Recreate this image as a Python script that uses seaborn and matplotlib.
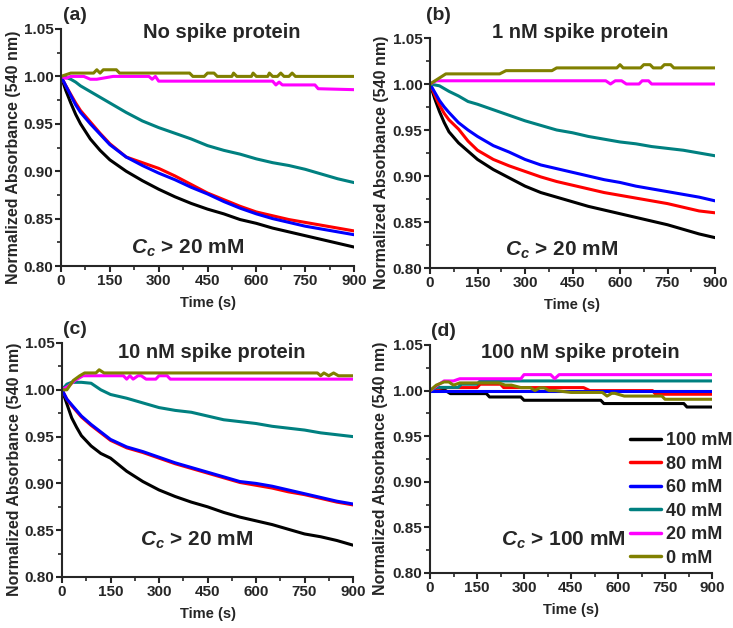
import pandas as pd
import matplotlib.pyplot as plt
import seaborn as sns
from matplotlib.ticker import MultipleLocator, FormatStrFormatter

# common time grid (s) for the decaying curves
t_grid = [0, 15, 30, 45, 60, 90, 120, 150, 200, 250, 300, 350, 400, 450,
          500, 550, 600, 650, 700, 750, 800, 850, 900]

# (a) no spike protein
a_100 = [1.000, 0.985, 0.972, 0.960, 0.950, 0.934, 0.922, 0.912, 0.900, 0.890, 0.881, 0.873,
         0.866, 0.860, 0.855, 0.849, 0.845, 0.840, 0.836, 0.832, 0.828, 0.824, 0.820]
a_80 = [1.000, 0.990, 0.981, 0.972, 0.964, 0.952, 0.940, 0.929, 0.915, 0.909, 0.903, 0.895,
        0.886, 0.877, 0.870, 0.863, 0.857, 0.853, 0.849, 0.846, 0.843, 0.840, 0.837]
a_60 = [1.000, 0.990, 0.980, 0.970, 0.962, 0.950, 0.939, 0.928, 0.915, 0.906, 0.898, 0.891,
        0.883, 0.876, 0.868, 0.861, 0.855, 0.850, 0.846, 0.842, 0.839, 0.836, 0.833]
a_40 = [1.000, 0.999, 0.997, 0.994, 0.990, 0.984, 0.978, 0.972, 0.962, 0.953, 0.946, 0.940,
        0.934, 0.927, 0.922, 0.918, 0.913, 0.909, 0.906, 0.902, 0.897, 0.892, 0.888]
t_a_20 = [0, 15, 30, 70, 90, 110, 160, 270, 280, 290, 300, 650, 660, 670, 680, 780, 790, 900]
a_20 = [1.0, 0.998, 1.0, 1.0, 0.997, 0.997, 1.0, 1.0, 0.997, 1.0, 0.995, 0.995, 0.991,
        0.994, 0.991, 0.991, 0.987, 0.986]
t_a_0 = [0, 30, 100, 110, 120, 130, 170, 180, 395, 405, 440, 450, 470, 480, 525, 530, 540,
         585, 590, 600, 635, 640, 650, 665, 675, 685, 700, 710, 720, 900]
a_0 = [1.0, 1.0035, 1.0035, 1.007, 1.0035, 1.007, 1.007, 1.0035, 1.0035, 1.0, 1.0, 1.0035,
       1.0035, 1.0, 1.0, 1.0035, 1.0, 1.0, 1.0035, 1.0, 1.0, 1.0035, 1.0, 1.0, 1.0035, 1.0,
       1.0, 1.0035, 1.0, 1.0]

# (b) 1 nM spike protein
b_100 = [1.000, 0.984, 0.970, 0.958, 0.948, 0.936, 0.927, 0.918, 0.907, 0.898, 0.889, 0.882,
         0.877, 0.872, 0.867, 0.863, 0.859, 0.855, 0.851, 0.847, 0.842, 0.837, 0.833]
b_80 = [1.000, 0.988, 0.977, 0.968, 0.961, 0.951, 0.938, 0.928, 0.918, 0.911, 0.905, 0.899,
        0.894, 0.890, 0.886, 0.882, 0.879, 0.876, 0.873, 0.870, 0.866, 0.862, 0.860]
b_60 = [1.000, 0.991, 0.982, 0.975, 0.969, 0.958, 0.950, 0.943, 0.933, 0.926, 0.918, 0.912,
        0.908, 0.904, 0.900, 0.896, 0.893, 0.889, 0.886, 0.883, 0.880, 0.877, 0.873]
b_40 = [1.000, 0.999, 0.998, 0.995, 0.992, 0.987, 0.981, 0.978, 0.972, 0.966, 0.960, 0.955,
        0.950, 0.947, 0.943, 0.940, 0.937, 0.935, 0.932, 0.930, 0.928, 0.925, 0.922]
t_b_20 = [0, 20, 555, 570, 585, 605, 620, 660, 670, 690, 700, 900]
b_20 = [1.0, 1.0035, 1.0035, 1.0, 1.0035, 1.0035, 1.0, 1.0, 1.0035, 1.0035, 1.0, 1.0]
t_b_0 = [0, 50, 220, 240, 385, 400, 590, 600, 610, 665, 675, 695, 705, 730, 740, 760, 770, 900]
b_0 = [1.0, 1.011, 1.011, 1.0145, 1.0145, 1.0175, 1.0175, 1.021, 1.0175, 1.0175, 1.021,
       1.021, 1.0175, 1.0175, 1.021, 1.021, 1.0175, 1.0175]

# (c) 10 nM spike protein
c_100 = [1.000, 0.985, 0.970, 0.960, 0.951, 0.940, 0.932, 0.927, 0.913, 0.902, 0.893, 0.886,
         0.880, 0.875, 0.869, 0.864, 0.860, 0.856, 0.851, 0.846, 0.843, 0.839, 0.834]
c_80 = [1.000, 0.990, 0.983, 0.977, 0.971, 0.962, 0.954, 0.946, 0.938, 0.933, 0.927, 0.921,
        0.916, 0.911, 0.906, 0.901, 0.898, 0.895, 0.891, 0.888, 0.884, 0.880, 0.877]
c_60 = [1.000, 0.990, 0.984, 0.978, 0.972, 0.963, 0.955, 0.947, 0.939, 0.934, 0.928, 0.922,
        0.917, 0.912, 0.907, 0.902, 0.900, 0.897, 0.893, 0.889, 0.885, 0.881, 0.878]
c_40 = [1.000, 1.006, 1.008, 1.008, 1.008, 1.007, 1.000, 0.995, 0.991, 0.986, 0.981, 0.978,
        0.976, 0.972, 0.968, 0.966, 0.964, 0.961, 0.959, 0.957, 0.954, 0.952, 0.950]
t_c_20 = [0, 20, 40, 65, 190, 200, 210, 220, 235, 245, 260, 290, 300, 325, 335, 900]
c_20 = [1.0, 1.004, 1.010, 1.015, 1.015, 1.0114, 1.015, 1.0114, 1.015, 1.015, 1.0114,
        1.0114, 1.015, 1.015, 1.0114, 1.0114]
t_c_0 = [0, 15, 35, 55, 70, 105, 115, 130, 790, 800, 810, 825, 840, 855, 900]
c_0 = [1.0, 1.0, 1.010, 1.015, 1.018, 1.018, 1.0214, 1.018, 1.018, 1.015, 1.018, 1.015,
       1.018, 1.015, 1.015]

# (d) 100 nM spike protein
t_d_100 = [0, 50, 65, 180, 190, 290, 300, 545, 555, 810, 820, 900]
d_100 = [1.0, 1.0, 0.9967, 0.9967, 0.993, 0.993, 0.9894, 0.9894, 0.9858, 0.9858, 0.982, 0.982]
t_d_80 = [0, 40, 150, 160, 225, 235, 490, 510, 710, 720, 900]
d_80 = [1.0, 1.0033, 1.0033, 1.007, 1.007, 1.0033, 1.0033, 1.0, 1.0, 0.996, 0.996]
t_d_60 = [0, 450, 900]
d_60 = [1.0, 1.0, 1.0]
t_d_40 = [0, 20, 90, 100, 150, 160, 900]
d_40 = [1.0, 1.0035, 1.0035, 1.007, 1.007, 1.0106, 1.0106]
t_d_20 = [0, 20, 45, 75, 95, 290, 300, 385, 398, 412, 900]
d_20 = [1.0, 1.005, 1.0106, 1.0106, 1.013, 1.013, 1.0175, 1.0175, 1.013, 1.0175, 1.0175]
t_d_0 = [0, 20, 45, 60, 75, 95, 220, 240, 260, 290, 320, 335, 350, 365, 380, 400, 450, 550,
         565, 580, 590, 620, 740, 750, 900]
d_0 = [1.0, 1.006, 1.0095, 1.0095, 1.006, 1.0084, 1.0084, 1.006, 1.006, 1.0033, 1.0033, 1.0,
       1.003, 1.003, 1.0, 1.0, 0.998, 0.998, 0.994, 0.997, 0.997, 0.994, 0.994, 0.9905, 0.9905]

conc_labels = ['100 mM', '80 mM', '60 mM', '40 mM', '20 mM', '0 mM']
conc_colors = ['#000000', '#FF0000', '#0000FF', '#008080', '#FF00FF', '#808000']
palette = dict(zip(conc_labels, conc_colors))

panel_series = {
    'a': [(t_grid, a_100), (t_grid, a_80), (t_grid, a_60), (t_grid, a_40), (t_a_20, a_20), (t_a_0, a_0)],
    'b': [(t_grid, b_100), (t_grid, b_80), (t_grid, b_60), (t_grid, b_40), (t_b_20, b_20), (t_b_0, b_0)],
    'c': [(t_grid, c_100), (t_grid, c_80), (t_grid, c_60), (t_grid, c_40), (t_c_20, c_20), (t_c_0, c_0)],
    'd': [(t_d_100, d_100), (t_d_80, d_80), (t_d_60, d_60), (t_d_40, d_40), (t_d_20, d_20), (t_d_0, d_0)],
}
panel_titles = {'a': 'No spike protein', 'b': '1 nM spike protein',
                'c': '10 nM spike protein', 'd': '100 nM spike protein'}
panel_notes = {'a': r'$C_c$ > 20 mM', 'b': r'$C_c$ > 20 mM',
               'c': r'$C_c$ > 20 mM', 'd': r'$C_c$ > 100 mM'}

rows = []
for key, series in panel_series.items():
    for label, (ts, vs) in zip(conc_labels, series):
        for t, v in zip(ts, vs):
            rows.append({'panel': key, 'Time': t, 'Abs': v, 'Conc': label})
df = pd.DataFrame(rows)

sns.set_theme(style="ticks")
plt.rcParams.update({
    'font.family': ['Liberation Sans', 'DejaVu Sans'],
    'font.weight': 'bold',
    'axes.labelweight': 'bold',
    'mathtext.fontset': 'custom',
    'mathtext.it': 'Liberation Sans:italic:bold',
    'mathtext.rm': 'Liberation Sans:bold',
    'axes.linewidth': 1.5,
})

fig = plt.figure(figsize=(7.33, 6.28), dpi=100)

W, H = 733, 628
# axes boxes in pixels: left, top, right, bottom
boxes = {'a': (61, 29, 354, 266), 'b': (430, 38, 715, 268),
         'c': (62, 343, 353, 577), 'd': (430, 345, 712, 573)}
# right edge (px) of the rotated y label
ylab_x = {'a': 21, 'b': 389, 'c': 22, 'd': 388}
# panel letter, title and note positions in pixels (x, y)
letter_pos = {'a': (63, 15), 'b': (426, 15), 'c': (63, 330), 'd': (431, 332)}
title_pos = {'a': (222, 33), 'b': (580, 33), 'c': (212, 352), 'd': (580, 352)}
note_pos = {'a': (188, 248), 'b': (562, 250), 'c': (197, 540), 'd': (563, 540)}

for key in ['a', 'b', 'c', 'd']:
    l, t, r, b = boxes[key]
    ax = fig.add_axes([l / W, 1 - b / H, (r - l) / W, (b - t) / H])
    sns.lineplot(data=df[df['panel'] == key], x='Time', y='Abs', hue='Conc',
                 hue_order=conc_labels, palette=palette, estimator=None,
                 linewidth=2.2, ax=ax, legend=(key == 'd'))
    ax.set_xlim(0, 900)
    ax.set_ylim(0.80, 1.05)
    ax.xaxis.set_major_locator(MultipleLocator(150))
    ax.xaxis.set_minor_locator(MultipleLocator(75))
    ax.yaxis.set_major_locator(MultipleLocator(0.05))
    ax.yaxis.set_minor_locator(MultipleLocator(0.025))
    ax.yaxis.set_major_formatter(FormatStrFormatter('%.2f'))
    ax.tick_params(which='major', direction='out', length=4.5, width=1.5, labelsize=11, pad=1)
    ax.tick_params(which='minor', direction='out', length=3, width=1.2)
    for lab in ax.get_xticklabels() + ax.get_yticklabels():
        lab.set_fontweight('bold')
    sns.despine(ax=ax)
    ax.set_xlabel('Time (s)', fontsize=10.5, fontweight='bold')
    ax.set_ylabel('Normalized Absorbance (540 nm)', fontsize=11.5, fontweight='bold')
    ax.xaxis.set_label_coords(0.5, -30 / (b - t))
    ax.yaxis.set_label_coords((ylab_x[key] - l) / (r - l), 0.46)

    lx, ly = letter_pos[key]
    fig.text(lx / W, 1 - ly / H, '(' + key + ')', fontsize=14, fontweight='bold',
             ha='left', va='center')
    tx, ty = title_pos[key]
    fig.text(tx / W, 1 - ty / H, panel_titles[key], fontsize=14.5, fontweight='bold',
             ha='center', va='center')
    nx, ny = note_pos[key]
    fig.text(nx / W, 1 - ny / H, panel_notes[key], fontsize=15, fontweight='bold',
             ha='center', va='center')

    if key == 'd':
        handles, labels = ax.get_legend_handles_labels()
        for h in handles:
            h.set_linewidth(2.5)
        ax.legend(handles, labels, loc='upper left', frameon=False,
                  bbox_to_anchor=(623 / W, 1 - 425 / H), bbox_transform=fig.transFigure,
                  prop={'size': 13, 'weight': 'bold'}, handlelength=1.7,
                  handletextpad=0.3, labelspacing=0.36, borderaxespad=0)

fig.savefig('out.png', dpi=100)
